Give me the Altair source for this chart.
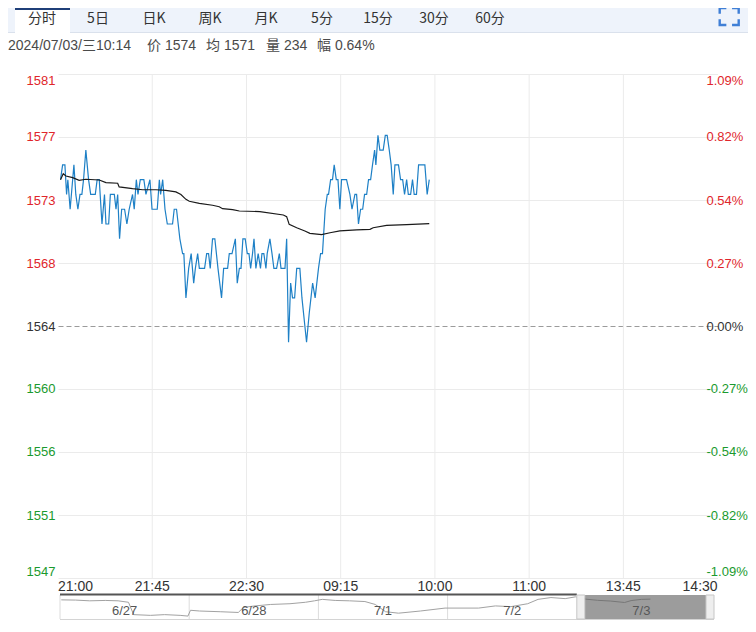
import altair as alt
import pandas as pd

# ---------------- data ----------------
price_minute = [1.2, 2.2, 3.3, 4.1, 4.7, 5.8, 7.6, 8.5, 9.5, 10.5, 11.4, 12.2, 13.3, 14.6, 15.6,
                17.8, 18.7, 19.7, 21.0, 22.2, 22.9, 24.2, 25.0, 26.9, 27.7, 28.5, 29.4, 30.4, 31.8, 32.9,
                34.0, 35.6, 36.4, 37.4, 38.2, 39.3, 41.0, 42.0, 43.9, 44.9, 47.4, 48.4, 49.0, 50.0, 51.1,
                52.2, 54.7, 55.5, 56.6, 58.2, 59.5, 60.1, 61.1, 62.4, 63.6, 64.8, 65.6, 66.7, 67.5, 70.0,
                71.0, 71.9, 72.7, 73.8, 74.9, 76.4, 78.1, 79.1, 81.0, 81.8, 83.1, 84.7, 85.6, 86.6, 87.4,
                88.3, 89.4,
                90.4, 91.2, 92.0, 92.9, 93.6, 94.5, 95.6, 96.7, 97.4, 98.3, 99.3, 99.9, 101.2, 102.2, 103.1,
                104.4, 105.7, 106.5, 108.4, 109.2, 110.1, 111.1, 112.0, 113.0, 114.0, 115.5, 116.5, 118.7,
                120.0, 121.6, 122.8, 124.4, 125.4, 126.3, 127.6, 128.6, 129.2, 130.2, 131.1, 131.9, 132.9,
                133.7, 134.6, 135.4, 137.8, 139.4, 140.4, 141.8, 142.6, 143.5, 144.5, 145.5, 146.4, 147.4,
                148.3, 149.3, 150.2, 151.2, 151.8, 152.8, 153.7, 155.3, 156.3, 157.2, 158.2, 159.1, 160.1,
                160.9, 162.6, 163.6, 164.6, 165.5, 166.5, 167.3, 168.4, 169.3, 170.1, 171.2, 172.2, 175.2,
                176.3, 177.3]
price_value = [1574, 1575, 1575, 1573, 1574, 1572, 1575, 1573, 1572, 1573, 1573, 1574, 1576, 1574, 1573,
               1573, 1574, 1574, 1571, 1573, 1571, 1571, 1573, 1573, 1572, 1573, 1570, 1572, 1572, 1571,
               1572, 1573, 1572, 1574, 1573, 1574, 1574, 1573, 1574, 1572, 1572, 1574, 1573, 1574, 1572,
               1571, 1571, 1572, 1572, 1570, 1569, 1569, 1566, 1568, 1569, 1567, 1568, 1569, 1568, 1568,
               1569, 1569, 1568, 1570, 1570, 1568, 1566, 1568, 1568, 1569, 1569, 1570, 1567, 1568, 1568,
               1570, 1570,
               1569, 1569, 1568, 1569, 1570, 1568, 1569, 1568, 1569, 1569, 1568, 1569, 1570, 1569, 1568,
               1568, 1569, 1568, 1568, 1570, 1563, 1567, 1566, 1566, 1568, 1568, 1566, 1563,
               1565, 1567, 1566, 1568, 1569, 1569, 1572, 1573, 1573, 1574, 1574, 1575, 1574,
               1574, 1572, 1574, 1574, 1573, 1572, 1573, 1573, 1571, 1572, 1572, 1573, 1573,
               1574, 1574, 1575, 1576, 1575, 1577, 1576, 1576, 1577, 1577, 1576, 1575, 1573,
               1575, 1575, 1574, 1574, 1573, 1574, 1573, 1573, 1574, 1573, 1573, 1575, 1575,
               1573, 1574]

avg_minute = [1.2, 2.5, 3.8, 7.0, 10.1, 13.3, 19.7, 22.9, 28.5, 29.2, 35.6, 40.4, 46.8, 51.5, 56.3,
              58.7, 61.1, 62.7, 67.5, 73.8, 77.0, 78.6, 83.4, 86.6, 96.4, 107.6, 109.2, 110.4, 114.0,
              117.9, 120.3, 125.9, 129.9, 134.6, 142.6, 149.0, 150.5, 156.9, 166.5, 177.3]
avg_value = [1574.0, 1574.4, 1574.25, 1574.14, 1573.96, 1574.03, 1573.98, 1573.8, 1573.76, 1573.51,
             1573.39, 1573.32, 1573.32, 1573.28, 1573.17, 1573.0, 1572.67, 1572.54, 1572.4, 1572.27,
             1572.17, 1572.04, 1571.97, 1571.88, 1571.84, 1571.61, 1571.5, 1570.98, 1570.75, 1570.53,
             1570.37, 1570.28, 1570.41, 1570.53, 1570.6, 1570.64, 1570.75, 1570.91, 1570.96, 1571.02]

base_price = 1564.10
y_ticks = [1547.05, 1551.31, 1555.58, 1559.84, 1564.10, 1568.36, 1572.62, 1576.89, 1581.15]
y_left_labels = ["1547", "1551", "1556", "1560", "1564", "1568", "1573", "1577", "1581"]
y_right_labels = ["-1.09%", "-0.82%", "-0.54%", "-0.27%", "0.00%", "0.27%", "0.54%", "0.82%", "1.09%"]

x_ticks = [0, 45, 90, 135, 180, 225, 270, 315]
x_labels = ["21:00", "21:45", "22:30", "09:15", "10:00", "11:00", "13:45", "14:30"]

nav_day_labels = ["6/27", "6/28", "7/1", "7/2", "7/3"]
nav_pos = [0.01, 0.12, 0.23, 0.35, 0.45, 0.53, 0.57, 0.70, 0.81, 0.93, 0.99, 1.01, 1.08, 1.24, 1.38,
           1.42, 1.51, 1.63, 1.78, 1.90, 1.97, 2.03, 2.13, 2.24, 2.36, 2.44, 2.52, 2.62, 2.79, 2.98,
           3.24, 3.37, 3.49, 3.62, 3.70, 3.80, 3.91, 3.99, 4.07, 4.16, 4.26, 4.37, 4.42, 4.50, 4.57]
nav_price = [1571.7, 1571, 1568.7, 1569.9, 1568.7, 1564.1, 1525, 1522.7, 1525, 1522.7, 1520.4, 1538.8,
             1536.5, 1534.2, 1531.9, 1548, 1552.6, 1557.2, 1559.5, 1564.1, 1568.7, 1573.3, 1569.9,
             1568.7, 1566.4, 1557.2, 1534.2, 1529.6, 1536.5, 1545.7, 1545.7, 1552.6, 1550.3, 1559.5,
             1573.3, 1579, 1575.6, 1581.3, 1574, 1570.3, 1568, 1563.4, 1569.4, 1573.3, 1574]

tabs = ["分时", "5日", "日K", "周K", "月K", "5分", "15分", "30分", "60分"]
info_parts = ["2024/07/03/三10:14", "价 1574", "均 1571", "量 234", "幅 0.64%"]

# ---------------- styling ----------------
RED, GREEN, NEUTRAL = "#e0262b", "#1a9a2e", "#333333"
LATIN = "Liberation Sans"
CJK = "Noto Sans CJK SC"
MIXED = "Liberation Sans, Noto Sans CJK SC"
PLOT_W, PLOT_H = 648, 504


def lookup(vals, labels):
    arr = "[" + ",".join("'%s'" % l for l in labels) + "]"
    keys = "[" + ",".join(str(v) for v in vals) + "]"
    return "%s[indexof(%s, datum.value)]" % (arr, keys)


label_color = {"condition": [{"test": "datum.value > %f" % (base_price + 0.01), "value": RED},
                             {"test": "datum.value < %f" % (base_price - 0.01), "value": GREEN}],
               "value": NEUTRAL}
is_base = "abs(datum.value - %f) < 0.01" % base_price

x_scale = alt.Scale(domain=[x_ticks[0], x_ticks[-1]], range=[0, 659.6], nice=False, zero=False)
y_scale = alt.Scale(domain=[y_ticks[0], y_ticks[-1]], nice=False, zero=False)

price_df = pd.DataFrame({"minute": price_minute, "price": price_value})
avg_df = pd.DataFrame({"minute": avg_minute, "avg": avg_value})

# vertical grid lines (interior time ticks) and time labels
xt_df = pd.DataFrame({"t": x_ticks, "label": x_labels})
x_grid = alt.Chart(xt_df).transform_filter(
    "datum.t > %d && datum.t < %d" % (x_ticks[0], x_ticks[-1])
).mark_rule(color="#ebebeb", strokeWidth=1).encode(
    x=alt.X("t:Q", scale=x_scale, axis=None), y=alt.value(0), y2=alt.value(PLOT_H))


def xlab(filter_expr, align):
    return alt.Chart(xt_df).transform_filter(filter_expr).mark_text(
        fontSize=14, color=NEUTRAL, font=LATIN, align=align, baseline="middle").encode(
        x=alt.X("t:Q", scale=x_scale, axis=None), y=alt.value(PLOT_H + 9), text="label:N")


x_lab_first = xlab("datum.t == %d" % x_ticks[0], "left")
x_lab_mid = xlab("datum.t > %d && datum.t < %d" % (x_ticks[0], x_ticks[-1]), "center")
x_lab_last = xlab("datum.t == %d" % x_ticks[-1], "right")

price_line = alt.Chart(price_df).mark_line(color="#1e80c6", strokeWidth=1.2).encode(
    x=alt.X("minute:Q", scale=x_scale, axis=None),
    y=alt.Y("price:Q", scale=y_scale,
            axis=alt.Axis(values=y_ticks, labelExpr=lookup(y_ticks, y_left_labels), title=None,
                          domain=False, ticks=False, labelFlush=True, labelFontSize=13,
                          labelPadding=3, labelColor=label_color, grid=True,
                          gridColor={"condition": {"test": is_base, "value": "#9b9b9b"}, "value": "#ebebeb"},
                          gridDash={"condition": {"test": is_base, "value": [5, 3]}, "value": []})),
)
avg_line = alt.Chart(avg_df).mark_line(color="#1a1a1a", strokeWidth=1.2).encode(
    x=alt.X("minute:Q", scale=x_scale, axis=None),
    y=alt.Y("avg:Q", scale=y_scale,
            axis=alt.Axis(orient="right", values=y_ticks, labelExpr=lookup(y_ticks, y_right_labels),
                          title=None, domain=False, ticks=False, labelFlush=True, labelFontSize=13,
                          labelPadding=0, labelColor=label_color, grid=False)),
)
main = alt.layer(x_grid, x_lab_first, x_lab_mid, x_lab_last, price_line, avg_line).resolve_axis(y="independent")

# ---------------- navigator ----------------
NT, NB = 521, 545
nav_x = alt.Scale(domain=[0, 5], range=[2, 648], nice=False, zero=False)
nav_y = alt.Scale(domain=[1511.2, 1587.1], range=[NB, NT], nice=False, zero=False)

nav_df = pd.DataFrame({"d": nav_pos, "p": nav_price})
nav_line = alt.Chart(nav_df).mark_line(color="#a2a2a2", strokeWidth=1).encode(
    x=alt.X("d:Q", scale=nav_x, axis=None), y=alt.Y("p:Q", scale=nav_y, axis=None))

div_df = pd.DataFrame({"d": [0, 1, 2, 3]})
dividers = alt.Chart(div_df).mark_rule(color="#dcdcdc").encode(
    x=alt.X("d:Q", scale=nav_x, axis=None), y=alt.value(NT), y2=alt.value(NB))

span_df = pd.DataFrame({"a": [0], "b": [5], "c": [4]})
nav_bottom = alt.Chart(span_df).mark_rule(color="#d4d4d4", x2Offset=8).encode(
    x=alt.X("a:Q", scale=nav_x, axis=None), x2="b:Q", y=alt.value(NB + 0.5))
nav_top = alt.Chart(span_df).mark_rule(color="#555555", strokeWidth=2).encode(
    x=alt.X("a:Q", scale=nav_x, axis=None), x2="c:Q", y=alt.value(NT - 0.5))

lab_df = pd.DataFrame({"d": [i + 0.5 for i in range(len(nav_day_labels))], "label": nav_day_labels})
nav_labels = alt.Chart(lab_df).mark_text(fontSize=13, color="#555555", font=LATIN).encode(
    x=alt.X("d:Q", scale=nav_x, axis=None), y=alt.value(NB - 8), text="label:N")

box = alt.Chart(span_df).mark_rect(color="#5a5a5a", opacity=0.6, xOffset=8).encode(
    x=alt.X("c:Q", scale=nav_x, axis=None), x2="b:Q", y=alt.value(NT), y2=alt.value(NB))
handle_df = pd.DataFrame({"h": [4, 5]})
handles = alt.Chart(handle_df).mark_rect(fill="#eeeeee", stroke="#c6c6c6", strokeWidth=1, x2Offset=8).encode(
    x=alt.X("h:Q", scale=nav_x, axis=None), x2="h:Q", y=alt.value(NT), y2=alt.value(NB))

nav = alt.layer(dividers, nav_bottom, nav_top, nav_line, nav_labels, box, handles)

# ---------------- header (tab bar + info line) ----------------
one = pd.DataFrame({"k": [0]})
bar_bg = alt.Chart(one).mark_rect(color="#eef3fb").encode(
    x=alt.value(-58), x2=alt.value(700), y=alt.value(-74), y2=alt.value(-42))
bar_line = alt.Chart(one).mark_rule(color="#dae1ec").encode(
    x=alt.value(-58), x2=alt.value(700), y=alt.value(-41.5))
sel_tab = alt.Chart(one).mark_rect(color="#ffffff").encode(
    x=alt.value(-43), x2=alt.value(12), y=alt.value(-66), y2=alt.value(-41))
sel_top = alt.Chart(one).mark_rect(color="#1f3f78").encode(
    x=alt.value(-43), x2=alt.value(12), y=alt.value(-66), y2=alt.value(-64))
tab_df = pd.DataFrame({"label": tabs, "cx": [-16 + 56 * i for i in range(len(tabs))]})
tab_text = alt.Chart(tab_df).mark_text(fontSize=14, color="#333333", font=CJK, baseline="middle").encode(
    x=alt.X("cx:Q", scale=None), y=alt.value(-55.5), text="label:N")
icon_path = ("M-1,-0.3 L-1,-0.9 L-0.3,-0.9 M0.3,-0.9 L1,-0.9 L1,-0.3 "
             "M1,0.3 L1,0.9 L0.3,0.9 M-0.3,0.9 L-1,0.9 L-1,0.3")
icon = alt.Chart(one).mark_point(shape=icon_path, filled=False, stroke="#3f7fd6", strokeWidth=2.4,
                                 size=361, opacity=1).encode(x=alt.value(671.2), y=alt.value(-57.5))
info_df = pd.DataFrame({"label": info_parts, "ix": [-50, 89, 148, 208, 259]})
info = alt.Chart(info_df).mark_text(fontSize=14, color="#4a4a4a", font=MIXED,
                                    align="left", baseline="middle").encode(
    x=alt.X("ix:Q", scale=None), y=alt.value(-28), text="label:N")

header = alt.layer(bar_bg, bar_line, sel_tab, sel_top, tab_text, icon, info)

chart = alt.layer(header, main, nav).resolve_scale(x="independent", y="independent").properties(
    width=PLOT_W, height=PLOT_H,
    autosize=alt.AutoSizeParams(type="none"),
    padding={"left": 50, "top": 66, "right": 42, "bottom": 42},
).configure_view(stroke=None).configure_axis(labelFont=LATIN)

chart.save("out.html", embed_options={"renderer": "svg", "actions": False})
